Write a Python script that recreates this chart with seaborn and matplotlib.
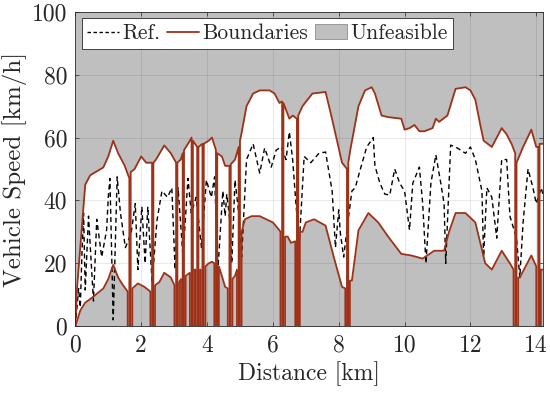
import numpy as np
import matplotlib
matplotlib.use("Agg")
import matplotlib.pyplot as plt
import seaborn as sns
from matplotlib.lines import Line2D
from matplotlib.patches import Patch

# ---------------- data (km, km/h) ----------------
upper_x = [0.0, 0.05, 0.3, 0.45, 0.85, 1.0, 1.15, 1.3, 1.5, 1.64,
           1.64, 1.68, 1.68, 1.8, 2.0, 2.15, 2.33,
           2.33, 2.37, 2.37, 2.45, 2.7, 2.9, 3.06,
           3.06, 3.1, 3.1, 3.2, 3.26,
           3.26, 3.3, 3.3, 3.45, 3.53,
           3.53, 3.57, 3.57, 3.7,
           3.7, 3.74, 3.74, 3.86,
           3.86, 3.9, 3.9, 4.05, 4.15, 4.27,
           4.27, 4.31, 4.31, 4.45, 4.55, 4.68,
           4.68, 4.72, 4.72, 4.85, 4.96,
           4.96, 5.0, 5.0, 5.05, 5.2, 5.4, 5.6, 5.9, 6.05, 6.2, 6.28,
           6.28, 6.32, 6.32, 6.5, 6.6, 6.73,
           6.73, 6.77, 6.77, 6.9, 7.2, 7.6, 7.75, 7.85, 8.1, 8.25,
           8.25, 8.29, 8.29, 8.35, 8.6, 8.8, 9.0, 9.1, 9.3, 9.5, 9.9,
           10.0, 10.15, 10.3, 10.45, 10.6, 10.85, 10.95, 11.05, 11.3,
           11.55, 11.85, 12.0, 12.15, 12.3, 12.4, 12.65, 12.95, 13.1,
           13.25, 13.36,
           13.36, 13.4, 13.4, 13.6, 13.85, 14.0, 14.06,
           14.06, 14.1, 14.1, 14.2]
upper_v = [0, 12, 45, 48, 50.5, 54, 59, 55, 51, 47,
           0, 0, 49, 50, 54, 52, 52,
           0, 0, 52, 53, 57.5, 55, 52,
           0, 0, 52, 53, 55,
           0, 0, 56, 58.5, 60,
           0, 0, 59, 57,
           0, 0, 57, 58,
           0, 0, 58, 59, 60, 56,
           0, 0, 55, 54, 51, 51,
           0, 0, 51.5, 53, 57,
           0, 0, 59, 61.5, 70, 74, 75, 75, 74, 71, 71.5,
           0, 0, 71, 66, 67, 66,
           0, 0, 67, 70, 74, 74.5, 68, 63.5, 52, 50,
           0, 0, 52, 56, 70, 75, 76, 74, 67, 66.5, 66,
           62.5, 63, 64, 62, 62, 63, 66, 65, 67,
           75.5, 76, 75, 72, 64, 59, 57, 63, 61,
           58, 55,
           0, 0, 52, 57, 62.5, 57, 57,
           0, 0, 58, 58]

lower_x = [0.0, 0.15, 0.3, 0.5, 0.85, 1.0, 1.15, 1.3, 1.45, 1.59,
           1.59, 1.73, 1.73, 1.9, 2.1, 2.28,
           2.28, 2.42, 2.42, 2.55, 2.7, 2.9, 3.01,
           3.01, 3.15, 3.15, 3.21,
           3.21, 3.35, 3.35, 3.48,
           3.48, 3.62, 3.62, 3.65,
           3.65, 3.79, 3.79, 3.81,
           3.81, 3.95, 3.95, 4.05, 4.15, 4.22,
           4.22, 4.36, 4.36, 4.45, 4.55, 4.63,
           4.63, 4.77, 4.77, 4.85, 4.91,
           4.91, 5.05, 5.05, 5.15, 5.35, 5.6, 6.0, 6.2, 6.23,
           6.23, 6.37, 6.37, 6.45, 6.55, 6.68,
           6.68, 6.82, 6.82, 6.9, 7.0, 7.25, 7.6, 7.85, 8.1, 8.2,
           8.2, 8.34, 8.34, 8.4, 8.6, 8.9, 9.2, 9.5, 9.9, 10.2, 10.55,
           10.9, 11.2, 11.35, 11.55, 11.85, 12.15, 12.45, 12.65, 12.95,
           13.2, 13.31,
           13.31, 13.45, 13.45, 13.5, 13.85, 14.0,
           14.0, 14.14, 14.14, 14.2]
lower_v = [0, 5, 7.5, 9, 12, 15, 19.5, 15.5, 13, 11,
           0, 0, 12, 13.6, 12.5, 11,
           0, 0, 13, 14, 17, 15.5, 13,
           0, 0, 14, 15,
           0, 0, 16, 17,
           0, 0, 18, 18,
           0, 0, 18, 18,
           0, 0, 19, 20, 20.5, 20,
           0, 0, 19, 16, 12.5, 12,
           0, 0, 15, 16, 18,
           0, 0, 30, 34, 35, 35, 33, 30.5, 30,
           0, 0, 28.5, 28.5, 26.5, 27,
           0, 0, 30, 30, 33, 34, 32, 22, 12.5, 12,
           0, 0, 14.5, 14.5, 30.5, 36, 33, 28.5, 23, 22.5, 21.5,
           24, 24, 30, 36, 36, 33, 20, 18, 24,
           20, 18,
           0, 0, 15.5, 15.5, 22.5, 19,
           0, 0, 18, 18]

ref_x = [0.0, 0.1, 0.15, 0.2, 0.25, 0.3, 0.4, 0.55, 0.65, 0.8, 0.95, 1.0,
         1.05, 1.15, 1.27, 1.37, 1.52, 1.6, 1.7, 1.82, 1.9, 2.02, 2.12,
         2.2, 2.33, 2.48, 2.63, 2.8, 2.93, 3.03, 3.12, 3.27, 3.42, 3.52,
         3.67, 3.83, 3.98, 4.13, 4.23, 4.33, 4.48, 4.55, 4.6, 4.7, 4.75,
         4.85, 4.95, 5.05, 5.2, 5.4, 5.6, 5.75, 5.95, 6.1, 6.25, 6.4, 6.5,
         6.6, 6.7, 6.8, 6.95, 7.15, 7.4, 7.6, 7.8, 7.9, 8.0, 8.05, 8.15,
         8.3, 8.4, 8.5, 8.65, 8.85, 9.05, 9.1, 9.25, 9.4, 9.55, 9.7, 9.85,
         10.0, 10.15, 10.25, 10.45, 10.55, 10.65, 10.8, 10.95, 11.1, 11.2,
         11.25, 11.4, 11.6, 11.85, 12.0, 12.15, 12.35, 12.4, 12.5, 12.65,
         12.8, 12.95, 13.1, 13.2, 13.4, 13.5, 13.6, 13.75, 13.9, 14.0,
         14.15, 14.2]
ref_v = [0, 12, 6, 23, 36, 11.5, 35, 8, 34, 22, 30.6, 41,
         47, 2, 47.5, 36, 25, 27, 30, 39, 18, 38, 20,
         38, 14, 33.7, 43, 41, 44, 18, 44, 22, 47, 36,
         41, 25, 46.5, 41, 47.5, 18, 43, 35, 42, 33, 20,
         46.5, 37, 22, 53, 58, 48.7, 56.7, 50.6, 56, 57, 53, 61.8,
         53, 39, 26, 54, 52, 55, 55.4, 43, 25, 37, 29.6, 22,
         35, 43, 44, 49.7, 57, 60, 51, 45.5, 42, 41.7, 50, 45.5,
         43, 30.6, 45.5, 50.6, 39, 20, 45.5, 54.5, 45.5, 39,
         20, 57.6, 56.7, 55, 57, 53, 43, 22, 44, 41,
         28, 53, 53, 35, 28, 15.5, 33, 50, 44, 39,
         44, 42]

x_ticks = [0, 2, 4, 6, 8, 10, 12, 14]
y_ticks = [0, 20, 40, 60, 80, 100]

# ---------------- style ----------------
sns.set_theme(style="white")
plt.rcParams["font.family"] = ["cmr10", "DejaVu Serif"]
plt.rcParams["axes.formatter.use_mathtext"] = True
plt.rcParams["mathtext.fontset"] = "cm"

gray = "#bfbfbf"
red = "#9e3219"

fig = plt.figure(figsize=(5.5, 3.93), dpi=100)
ax = fig.add_axes([0.137, 0.170, 0.850, 0.800])

ax.fill_between(upper_x, upper_v, 100, color=gray, lw=0, zorder=1)
ax.fill_between(lower_x, 0, lower_v, color=gray, lw=0, zorder=1)

sns.lineplot(x=ref_x, y=ref_v, ax=ax, estimator=None, sort=False,
             color="black", lw=1.0, linestyle=(0, (3.5, 2.5)), zorder=3)
sns.lineplot(x=upper_x, y=upper_v, ax=ax, estimator=None, sort=False,
             color=red, lw=1.3, zorder=4)
sns.lineplot(x=lower_x, y=lower_v, ax=ax, estimator=None, sort=False,
             color=red, lw=1.3, zorder=4)

ax.set_xlim(0, 14.2)
ax.set_ylim(0, 100)
ax.set_xticks(x_ticks)
ax.set_yticks(y_ticks)
ax.set_xticklabels([str(t) for t in x_ticks])
ax.set_yticklabels([str(t) for t in y_ticks])
ax.tick_params(direction="in", length=3, width=0.5, labelsize=17,
               top=True, right=True, bottom=True, left=True, pad=6)
ax.grid(True, color="black", alpha=0.12, lw=0.5, zorder=5)
ax.set_axisbelow(False)
for s in ax.spines.values():
    s.set_color("#262626")
    s.set_linewidth(0.6)
    s.set_zorder(6)

ax.set_xlabel("Distance [km]", fontsize=17, labelpad=3)
ax.set_ylabel("Vehicle Speed [km/h]", fontsize=18, labelpad=3)

handles = [Line2D([0], [0], color="black", lw=1.0, linestyle=(0, (2.5, 1.8))),
           Line2D([0], [0], color=red, lw=1.3),
           Patch(facecolor=gray, edgecolor="#8f8f8f", lw=0.6)]
leg = ax.legend(handles, ["Ref.", "Boundaries", "Unfeasible"], loc="upper left",
                ncol=3, fontsize=15.5, frameon=True, fancybox=False,
                framealpha=1, edgecolor="#262626", handlelength=1.5,
                handleheight=0.7, handletextpad=0.15, columnspacing=0.3,
                borderpad=0.25, borderaxespad=0.3,
                bbox_to_anchor=(0.0, 1.0))
leg.get_frame().set_linewidth(0.6)
leg.set_zorder(10)

fig.savefig("out.png", dpi=100)
